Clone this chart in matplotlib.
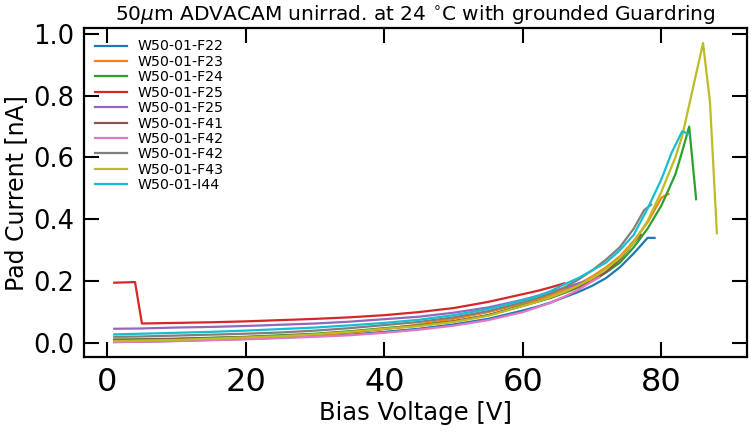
import matplotlib
matplotlib.use("Agg")
import matplotlib.pyplot as plt

# Bias voltage [V] and pad current [nA] per sensor
LABELS = ["W50-01-F22", "W50-01-F23", "W50-01-F24", "W50-01-F25", "W50-01-F25",
          "W50-01-F41", "W50-01-F42", "W50-01-F42", "W50-01-F43", "W50-01-I44"]

V_F22 = [1, 5, 10, 15, 20, 25, 30, 35, 40, 45, 50, 55, 60, 62, 64, 66, 68, 70, 72, 74, 76, 78, 79]
I_F22 = [0.003, 0.004, 0.007, 0.010, 0.013, 0.017, 0.022, 0.027, 0.036, 0.046, 0.060, 0.078, 0.105,
         0.117, 0.131, 0.148, 0.165, 0.185, 0.210, 0.245, 0.290, 0.340, 0.340]

V_F23 = [1, 5, 10, 15, 20, 25, 30, 35, 40, 45, 50, 55, 60, 62, 64, 66, 68, 70, 72, 74, 76, 78, 80, 81]
I_F23 = [0.004, 0.006, 0.008, 0.011, 0.015, 0.020, 0.025, 0.033, 0.045, 0.060, 0.078, 0.100, 0.128,
         0.140, 0.155, 0.172, 0.190, 0.215, 0.245, 0.280, 0.330, 0.390, 0.470, 0.482]

V_F24 = [1, 5, 10, 15, 20, 25, 30, 35, 40, 45, 50, 55, 60, 62, 64, 66, 68, 70, 72, 74, 76, 78, 80, 82, 83, 84, 85]
I_F24 = [0.011, 0.012, 0.014, 0.017, 0.020, 0.025, 0.030, 0.038, 0.048, 0.057, 0.070, 0.090, 0.122,
         0.133, 0.146, 0.162, 0.180, 0.200, 0.228, 0.260, 0.310, 0.370, 0.445, 0.545, 0.620, 0.700, 0.465]

V_F25a = [1, 4, 5, 10, 15, 20, 25, 30, 35, 40, 45, 50, 55, 60, 62, 64, 66]
I_F25a = [0.195, 0.197, 0.063, 0.065, 0.067, 0.070, 0.074, 0.078, 0.083, 0.090, 0.100, 0.113, 0.133,
          0.158, 0.168, 0.180, 0.193]

V_F25b = [1, 5, 10, 15, 20, 25, 30, 35, 40, 45, 50, 55, 60, 62, 64, 66, 68, 69]
I_F25b = [0.046, 0.047, 0.050, 0.052, 0.055, 0.059, 0.063, 0.069, 0.077, 0.085, 0.098, 0.115, 0.140,
          0.152, 0.165, 0.178, 0.193, 0.200]

V_F41 = [1, 5, 10, 15, 20, 25, 30, 35, 40, 45, 50, 55, 60, 64, 68, 70, 72, 74, 76, 77]
I_F41 = [0.010, 0.011, 0.013, 0.016, 0.019, 0.023, 0.028, 0.036, 0.046, 0.056, 0.070, 0.090, 0.120,
         0.147, 0.182, 0.202, 0.230, 0.270, 0.325, 0.350]

V_F42a = [1, 5, 10, 15, 20, 25, 30, 35, 40, 45, 50, 55, 60, 64, 66, 68, 70, 71]
I_F42a = [0.003, 0.004, 0.006, 0.009, 0.012, 0.016, 0.020, 0.025, 0.033, 0.043, 0.056, 0.074, 0.100,
          0.130, 0.150, 0.172, 0.200, 0.212]

V_F42b = [1, 5, 10, 15, 20, 25, 30, 35, 40, 45, 50, 55, 60, 62, 64, 66, 68, 70, 72, 74, 76, 77.5, 78.5]
I_F42b = [0.020, 0.021, 0.024, 0.027, 0.030, 0.034, 0.040, 0.048, 0.058, 0.068, 0.083, 0.103, 0.132,
          0.145, 0.160, 0.180, 0.205, 0.235, 0.270, 0.310, 0.370, 0.430, 0.447]

V_F43 = [1, 5, 10, 15, 20, 25, 30, 35, 40, 45, 50, 55, 60, 62, 64, 66, 68, 70, 72, 74, 76, 78, 80,
         82, 83, 84, 85, 86, 87, 88]
I_F43 = [0.006, 0.008, 0.010, 0.014, 0.018, 0.022, 0.028, 0.036, 0.046, 0.055, 0.068, 0.088, 0.120,
         0.133, 0.148, 0.165, 0.186, 0.210, 0.240, 0.275, 0.325, 0.395, 0.490, 0.600, 0.670, 0.770,
         0.870, 0.970, 0.780, 0.355]

V_I44 = [1, 5, 10, 15, 20, 25, 30, 35, 40, 45, 50, 55, 60, 62, 64, 66, 68, 70, 72, 74, 76, 78, 80,
         81.5, 83, 84]
I_I44 = [0.028, 0.030, 0.033, 0.036, 0.040, 0.045, 0.050, 0.057, 0.065, 0.075, 0.090, 0.110, 0.138,
         0.150, 0.168, 0.190, 0.210, 0.235, 0.260, 0.300, 0.350, 0.435, 0.530, 0.617, 0.685, 0.675]

SERIES = [(V_F22, I_F22), (V_F23, I_F23), (V_F24, I_F24), (V_F25a, I_F25a), (V_F25b, I_F25b),
          (V_F41, I_F41), (V_F42a, I_F42a), (V_F42b, I_F42b), (V_F43, I_F43), (V_I44, I_I44)]

fig = plt.figure(figsize=(7.51, 4.33), dpi=100)
ax = fig.add_axes([0.112, 0.1755, 0.8827, 0.7595])

for (v, i), lab in zip(SERIES, LABELS):
    ax.plot(v, i, lw=1.6, label=lab)

ax.set_title(r"50$\mu$m ADVACAM unirrad. at 24 $^{\circ}$C with grounded Guardring", fontsize=14.5)
ax.set_xlabel("Bias Voltage [V]", fontsize=17.5, labelpad=2)
ax.set_ylabel("Pad Current [nA]", fontsize=17, labelpad=4)
ax.tick_params(direction="in", length=11, width=1.5, top=True, right=True, pad=7)
ax.tick_params(axis="x", labelsize=23)
ax.tick_params(axis="y", labelsize=18.5)
for s in ax.spines.values():
    s.set_linewidth(1.6)
ax.legend(loc="upper left", frameon=False, fontsize=10.2, labelspacing=0.1,
          borderaxespad=0.4, handlelength=2.2)

fig.savefig("out.png", dpi=100)
